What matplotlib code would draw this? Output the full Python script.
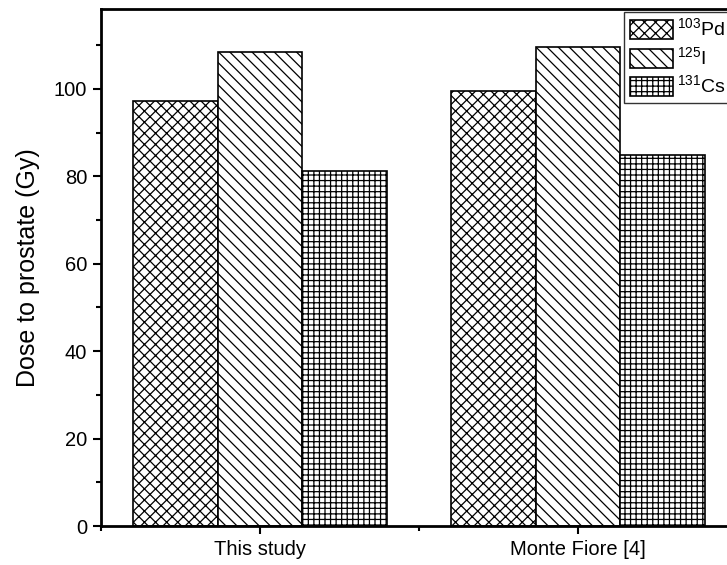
import matplotlib.pyplot as plt
import matplotlib.patches as mpatches
import numpy as np

plt.rcParams['font.family'] = ['Liberation Sans', 'DejaVu Sans']
plt.rcParams['mathtext.fontset'] = 'custom'
plt.rcParams['mathtext.rm'] = 'Liberation Sans'
plt.rcParams['hatch.linewidth'] = 0.9

groups = ['This study', 'Monte Fiore [4]']
isotopes = [r'$^{103}$Pd', r'$^{125}$I', r'$^{131}$Cs']
dose = {
    'Pd': [97.3, 99.6],
    'I': [108.4, 109.6],
    'Cs': [81.2, 84.8],
}
hatches = ['xxx', '\\\\\\', '+++']

fig = plt.figure(figsize=(7.27, 5.65), dpi=100)
# right edge of the axes lies just outside the picture, like the original crop
ax = fig.add_axes([101/727, 39/565, 636/727, 517/565])

x = np.arange(1, len(groups) + 1)
w = 0.8 / 3
for i, key in enumerate(['Pd', 'I', 'Cs']):
    ax.bar(x + (i - 1) * w, dose[key], w, color='white', edgecolor='black',
           hatch=hatches[i], linewidth=1.2)

ax.set_xlim(0.5, 2.5)
ax.set_ylim(0, 118.3)
ax.set_xticks(x)
ax.set_xticklabels(groups)
ax.set_xticks([0.5, 1.5, 2.5], minor=True)
ax.set_yticks(np.arange(0, 101, 20))
ax.set_yticks(np.arange(10, 111, 20), minor=True)

ax.tick_params(which='major', direction='out', length=6, width=1.5, labelsize=14.5, pad=4)
ax.tick_params(which='minor', direction='out', length=3.5, width=1.5)
for s in ax.spines.values():
    s.set_linewidth(2)

ax.set_ylabel('Dose to prostate (Gy)', fontsize=18, labelpad=10)

leg_handles = [mpatches.Patch(facecolor='white', edgecolor='black', hatch=h, linewidth=1.2)
               for h in hatches]
leg = fig.legend(leg_handles, isotopes, loc='upper left', bbox_to_anchor=(624/727, 1 - 12/565),
                 fontsize=14, frameon=True, fancybox=False, borderaxespad=0,
                 handlelength=2.2, handleheight=1.15, labelspacing=0.3,
                 handletextpad=0.25, borderpad=0.3)
leg.get_frame().set_edgecolor('black')
leg.get_frame().set_linewidth(1.0)

fig.savefig('out.png', dpi=100)
